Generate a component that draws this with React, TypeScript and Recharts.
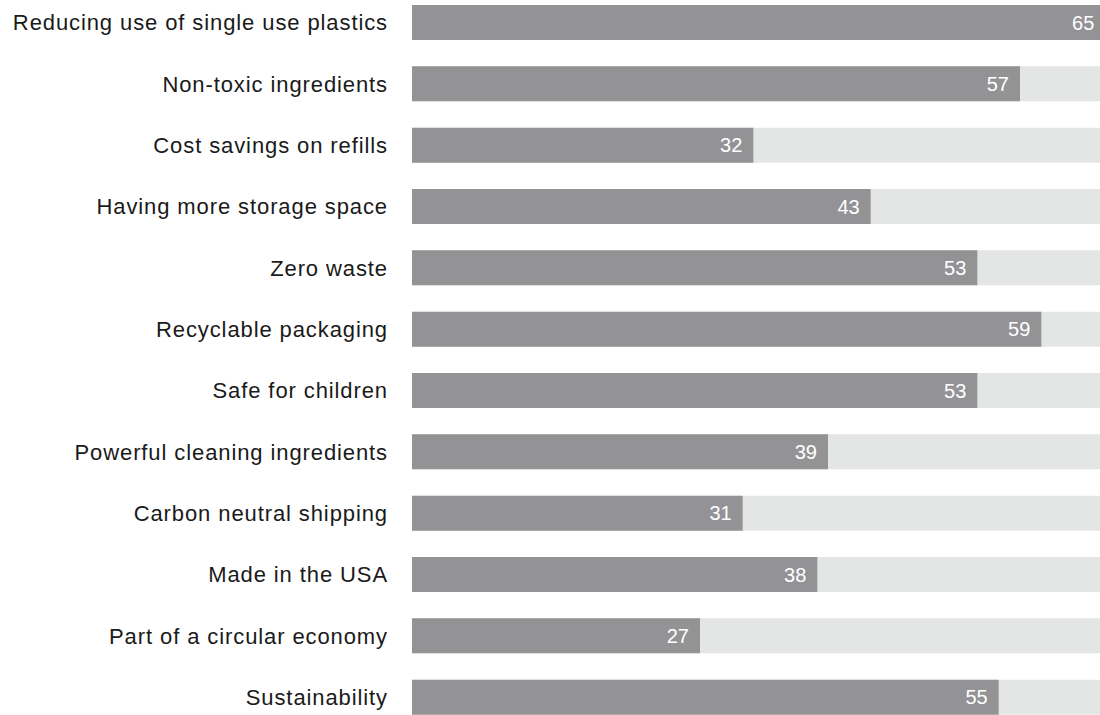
import React from "react";
import { BarChart, Bar, XAxis, YAxis, LabelList } from "recharts";

const categories = [
  "Reducing use of single use plastics",
  "Non-toxic ingredients",
  "Cost savings on refills",
  "Having more storage space",
  "Zero waste",
  "Recyclable packaging",
  "Safe for children",
  "Powerful cleaning ingredients",
  "Carbon neutral shipping",
  "Made in the USA",
  "Part of a circular economy",
  "Sustainability",
];

const values = [65, 57, 32, 43, 53, 59, 53, 39, 31, 38, 27, 55];

const domainMax = 64.5;

const data = categories.map((name, i) => ({ name, value: values[i] }));

const FONT = "'Liberation Sans', Arial, Helvetica, sans-serif";

export default function App() {
  return (
    <div
      style={{
        position: "absolute",
        left: 0,
        top: -8,
        width: 1100,
        height: 736,
        fontFamily: FONT,
        background: "#ffffff",
      }}
    >
      <BarChart
        width={1100}
        height={736}
        data={data}
        layout="vertical"
        margin={{ top: 0, right: 0, bottom: 0, left: 0 }}
      >
        <XAxis type="number" hide domain={[0, domainMax]} allowDataOverflow />
        <YAxis
          type="category"
          dataKey="name"
          width={412}
          axisLine={false}
          tickLine={false}
          tickSize={0}
          tickMargin={24}
          interval={0}
          tick={{
            fill: "#1a1a1a",
            fontSize: 22,
            fontFamily: FONT,
            letterSpacing: 0.9,
          }}
        />
        <Bar
          dataKey="value"
          fill="#939396"
          barSize={35}
          background={{ fill: "#e4e5e5" }}
          isAnimationActive={false}
        >
          <LabelList
            dataKey="value"
            position="insideRight"
            offset={11}
            fill="#ffffff"
            fontSize={20}
            fontFamily={FONT}
          />
        </Bar>
      </BarChart>
    </div>
  );
}
